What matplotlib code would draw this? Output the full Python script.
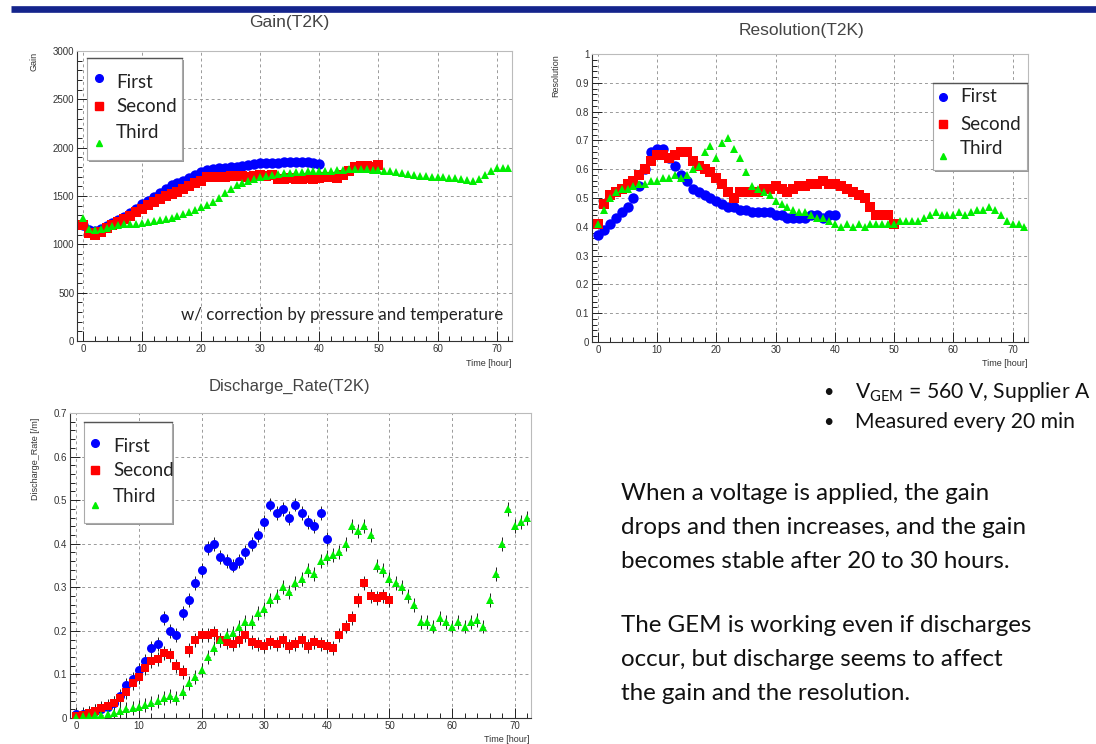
import numpy as np
import matplotlib
matplotlib.use('Agg')
import matplotlib.pyplot as plt
from matplotlib.patches import Rectangle
from matplotlib.lines import Line2D
from matplotlib.ticker import MultipleLocator, FuncFormatter

plt.rcParams['mathtext.fontset'] = 'custom'
plt.rcParams['mathtext.rm'] = 'Lato'

W, H = 1096, 744

series_names = ["First", "Second", "Third"]
series_colors = ["#0000ff", "#ff0000", "#00ee00"]
series_markers = ["o", "s", "^"]

# ---- Gain(T2K) ----
gain_first = [1200,1150,1140,1160,1190,1220,1250,1280,1320,1370,1420,1450,1490,1530,1570,1610,1630,1660,1690,1720,
              1750,1770,1780,1790,1790,1800,1800,1810,1820,1830,1840,1840,1840,1840,1850,1850,1850,1850,1850,1840,1830]
gain_second = [1200,1120,1100,1130,1170,1200,1230,1260,1290,1330,1370,1410,1440,1470,1500,1520,1540,1570,1600,1630,
               1660,1700,1700,1700,1700,1710,1710,1710,1700,1710,1720,1710,1720,1680,1680,1690,1680,1680,1690,1680,
               1690,1700,1700,1690,1720,1760,1800,1810,1810,1800,1820]
gain_third = [1270,1160,1150,1160,1170,1190,1200,1210,1210,1215,1220,1230,1240,1250,1260,1270,1290,1310,1330,1350,
              1390,1410,1440,1480,1530,1570,1610,1630,1660,1680,1700,1710,1720,1730,1740,1740,1750,1750,1760,1760,
              1760,1760,1760,1770,1770,1780,1780,1780,1780,1770,1770,1760,1760,1750,1740,1730,1720,1710,1710,1700,
              1700,1700,1690,1690,1680,1670,1660,1680,1720,1760,1790,1790,1790]

# ---- Resolution(T2K) ----
res_first = [0.37,0.39,0.41,0.43,0.45,0.47,0.50,0.54,0.60,0.66,0.67,0.67,0.64,0.61,0.58,0.56,0.53,0.52,0.51,0.50,
             0.49,0.48,0.47,0.47,0.46,0.46,0.45,0.45,0.45,0.45,0.44,0.44,0.43,0.43,0.43,0.43,0.44,0.44,0.43,0.44,0.44]
res_second = [0.41,0.48,0.51,0.52,0.53,0.55,0.56,0.58,0.60,0.63,0.65,0.65,0.64,0.65,0.66,0.66,0.63,0.61,0.60,0.59,
              0.57,0.55,0.52,0.50,0.52,0.52,0.52,0.52,0.53,0.53,0.54,0.53,0.52,0.53,0.54,0.54,0.55,0.55,0.56,0.55,
              0.55,0.54,0.53,0.52,0.51,0.50,0.47,0.44,0.44,0.44,0.41]
res_third = [0.41,0.46,0.50,0.52,0.53,0.53,0.54,0.55,0.55,0.56,0.56,0.57,0.57,0.58,0.57,0.58,0.60,0.61,0.66,0.68,
             0.64,0.69,0.71,0.67,0.64,0.59,0.54,0.53,0.52,0.51,0.49,0.48,0.47,0.46,0.45,0.45,0.44,0.43,0.43,0.42,
             0.41,0.40,0.41,0.40,0.41,0.40,0.41,0.41,0.41,0.41,0.41,0.42,0.42,0.42,0.42,0.43,0.44,0.45,0.44,0.44,
             0.44,0.45,0.44,0.45,0.46,0.46,0.47,0.46,0.44,0.42,0.41,0.41,0.40]

# ---- Discharge_Rate(T2K) ----
dis_first = [0.010,0.010,0.012,0.015,0.020,0.025,0.035,0.050,0.075,0.090,0.110,0.130,0.160,0.170,0.230,0.200,0.190,
             0.240,0.270,0.310,0.340,0.390,0.400,0.370,0.360,0.350,0.360,0.380,0.400,0.420,0.450,0.490,0.470,0.480,
             0.460,0.490,0.470,0.450,0.440,0.470,0.410]
dis_second = [0.005,0.008,0.012,0.016,0.022,0.028,0.035,0.045,0.060,0.080,0.095,0.115,0.130,0.135,0.150,0.145,0.120,
              0.105,0.155,0.180,0.190,0.190,0.195,0.180,0.175,0.170,0.180,0.190,0.175,0.170,0.165,0.175,0.170,0.180,
              0.165,0.170,0.180,0.165,0.175,0.170,0.165,0.160,0.190,0.210,0.230,0.270,0.310,0.280,0.275,0.280,0.270]
dis_third = [0.002,0.004,0.005,0.006,0.008,0.010,0.012,0.015,0.020,0.022,0.025,0.030,0.035,0.040,0.045,0.050,0.045,
             0.060,0.080,0.095,0.110,0.140,0.160,0.180,0.190,0.195,0.210,0.220,0.220,0.240,0.250,0.270,0.280,0.300,
             0.290,0.310,0.320,0.340,0.330,0.360,0.370,0.375,0.380,0.400,0.440,0.430,0.440,0.420,0.350,0.340,0.320,
             0.310,0.300,0.280,0.260,0.220,0.220,0.210,0.230,0.220,0.210,0.220,0.210,0.220,0.225,0.210,0.270,0.330,
             0.400,0.480,0.440,0.450,0.460]
dis_yerr = 0.016
dis_xerr = 0.3

bullets = [r"V$_{\mathrm{GEM}}$ = 560 V, Supplier A", "Measured every 20 min"]
para1 = ["When a voltage is applied, the gain",
         "drops and then increases, and the gain",
         "becomes stable after 20 to 30 hours."]
para2 = ["The GEM is working even if discharges",
         "occur, but discharge seems to affect",
         "the gain and the resolution."]

fig = plt.figure(figsize=(W / 100, H / 100), dpi=100)
fig.patch.set_facecolor('white')

def rect(l, t, r, b):
    return [l / W, 1 - b / H, (r - l) / W, (b - t) / H]

def fp(x, y):
    return (x / W, 1 - y / H)

AXF = 'Liberation Sans'
SLF = 'Lato'
TXTC = '#333333'

def fmt_g(v, pos):
    s = ('%.2f' % v).rstrip('0').rstrip('.')
    return s if s != '-0' else '0'

def style_axes(ax, ylim, ymaj, ymin):
    ax.set_xlim(-1.0, 72.6)
    ax.set_ylim(*ylim)
    ax.xaxis.set_major_locator(MultipleLocator(10))
    ax.xaxis.set_minor_locator(MultipleLocator(2))
    ax.yaxis.set_major_locator(MultipleLocator(ymaj))
    ax.yaxis.set_minor_locator(MultipleLocator(ymin))
    ax.yaxis.set_major_formatter(FuncFormatter(fmt_g))
    ax.tick_params(which='both', direction='in', top=False, right=False,
                   colors='#222222', labelcolor=TXTC, labelsize=7, width=0.7)
    ax.tick_params(which='major', length=7, pad=2)
    ax.tick_params(which='minor', length=3.5)
    for lab in ax.get_xticklabels() + ax.get_yticklabels():
        lab.set_fontfamily(AXF)
    ax.grid(True, which='major', ls=(0, (3, 3)), color='#9a9a9a', lw=0.7)
    ax.set_axisbelow(True)
    for s in ['left', 'bottom']:
        ax.spines[s].set_color('#333333')
        ax.spines[s].set_linewidth(0.8)
    for s in ['top', 'right']:
        ax.spines[s].set_color('#bbbbbb')
        ax.spines[s].set_linewidth(0.8)

def legend_box(l, t, r, b, entries):
    fig.add_artist(Rectangle(fp(l + 2, b + 2), (r - l) / W, (b - t) / H,
                             transform=fig.transFigure, facecolor='#999999',
                             edgecolor='none', zorder=9))
    fig.add_artist(Rectangle(fp(l, b), (r - l) / W, (b - t) / H,
                             transform=fig.transFigure, facecolor='white',
                             edgecolor='#aaaaaa', lw=0.8, zorder=10))
    fig.add_artist(Line2D([l / W, r / W], [1 - t / H, 1 - t / H], transform=fig.transFigure,
                          color='#555555', lw=1.0, zorder=11))
    for (mx, my, tx, ty, name, col, mk, ms) in entries:
        fig.add_artist(Line2D([mx / W], [1 - my / H], transform=fig.transFigure, marker=mk,
                              color=col, ms=ms, ls='none', zorder=12))
        fig.text(tx / W, 1 - ty / H, name, family=SLF, fontsize=13.5, color='#222222',
                 ha='left', va='center', zorder=12)

series_ms_line = [7.5, 6.8, 5.5]

# ---------------- Gain ----------------
ax1 = fig.add_axes(rect(77, 51, 512, 341))
for vals, c, m, ms in zip([gain_first, gain_second, gain_third], series_colors, series_markers, series_ms_line):
    ax1.plot(np.arange(len(vals)), vals, ls='none', marker=m, color=c, ms=ms, mew=0)
style_axes(ax1, (0, 3000), 500, 100)
fig.text(289 / W, 1 - 23 / H, "Gain(T2K)", family=AXF, fontsize=12.5, color='#444444', ha='center', va='center')
fig.text(34 / W, 1 - 52 / H, "Gain", family=AXF, fontsize=6.5, color=TXTC, rotation=90, ha='center', va='top')
fig.text(511 / W, 1 - 363 / H, "Time [hour]", family=AXF, fontsize=6.5, color=TXTC, ha='right', va='center')
fig.text(181 / W, 1 - 315 / H, "w/ correction by pressure and temperature", family=SLF, fontsize=12.2,
         color='#222222', ha='left', va='center')
legend_box(87, 58, 182, 160, [
    (99, 78, 116, 82, "First", series_colors[0], 'o', 5.5),
    (99, 106, 116, 107, "Second", series_colors[1], 's', 5.5),
    (99, 143, 116, 132, "Third", series_colors[2], '^', 4),
])

# ---------------- Resolution ----------------
ax2 = fig.add_axes(rect(592, 54, 1028, 342))
for vals, c, m, ms in zip([res_first, res_second, res_third], series_colors, series_markers, series_ms_line):
    ax2.plot(np.arange(len(vals)), vals, ls='none', marker=m, color=c, ms=ms, mew=0)
style_axes(ax2, (0, 1.0), 0.1, 0.02)
fig.text(802 / W, 1 - 30 / H, "Resolution(T2K)", family=AXF, fontsize=12.5, color='#444444', ha='center', va='center')
fig.text(556 / W, 1 - 54 / H, "Resolution", family=AXF, fontsize=6.5, color=TXTC, rotation=90, ha='center', va='top')
fig.text(1027 / W, 1 - 364 / H, "Time [hour]", family=AXF, fontsize=6.5, color=TXTC, ha='right', va='center')
legend_box(933, 83, 1027, 170, [
    (943, 97, 960, 97, "First", series_colors[0], 'o', 5.5),
    (943, 124, 960, 124, "Second", series_colors[1], 's', 5.5),
    (943, 156, 960, 149, "Third", series_colors[2], '^', 4),
])

# ---------------- Discharge rate ----------------
ax3 = fig.add_axes(rect(70, 413, 531, 718))
for vals, c, m, ms in zip([dis_first, dis_second, dis_third], series_colors, series_markers, [6.5, 6.2, 5.2]):
    t = np.arange(len(vals))
    ax3.errorbar(t, vals, yerr=dis_yerr, xerr=dis_xerr, fmt='none', ecolor='#222222', elinewidth=0.7, capsize=0, zorder=2)
    ax3.plot(t, vals, ls='none', marker=m, color=c, ms=ms, mew=0, zorder=3)
style_axes(ax3, (0, 0.7), 0.1, 0.02)
fig.text(289 / W, 1 - 386 / H, "Discharge_Rate(T2K)", family=AXF, fontsize=12, color='#444444', ha='center', va='center')
fig.text(35 / W, 1 - 418 / H, "Discharge_Rate [/m]", family=AXF, fontsize=6.5, color=TXTC, rotation=90, ha='center', va='top')
fig.text(530 / W, 1 - 740 / H, "Time [hour]", family=AXF, fontsize=6.5, color=TXTC, ha='right', va='center')
legend_box(84, 422, 172, 523, [
    (95, 443, 113, 446, "First", series_colors[0], 'o', 5.5),
    (95, 470, 113, 471, "Second", series_colors[1], 's', 5.5),
    (95, 505, 113, 496, "Third", series_colors[2], '^', 4),
])

# ---------------- Slide decoration and text ----------------
fig.add_artist(Line2D([11 / W, 1.0], [1 - 9 / H, 1 - 9 / H], transform=fig.transFigure,
                      color='#14248c', lw=4.8, solid_capstyle='butt'))

for i, b in enumerate(bullets):
    y = 392 + 30 * i
    fig.text(828 / W, 1 - y / H, u"\u2022", family=SLF, fontsize=13, color='#111111', ha='center', va='center')
    fig.text(855 / W, 1 - y / H, b, family=SLF, fontsize=15.2, color='#111111', ha='left', va='center')

for i, line in enumerate(para1):
    fig.text(621 / W, 1 - (494 + 33.5 * i) / H, line, family=SLF, fontsize=17.4, color='#111111', ha='left', va='center')
for i, line in enumerate(para2):
    fig.text(621 / W, 1 - (626 + 33.5 * i) / H, line, family=SLF, fontsize=17.4, color='#111111', ha='left', va='center')

fig.savefig('out.png', dpi=100, facecolor='white')
